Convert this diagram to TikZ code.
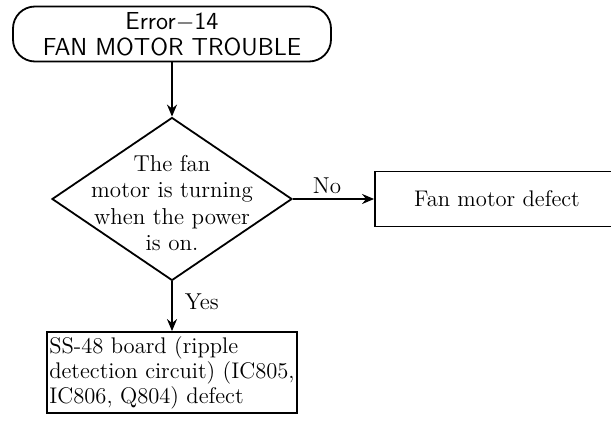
\documentclass[tikz,border=0pt]{standalone}
\usepackage{tikz}
\usetikzlibrary{arrows.meta, positioning, shapes.geometric}

\begin{document}
\begin{tikzpicture}[x=0.5pt, y=-0.5pt,
  term/.style={draw, line width=0.9pt, rounded corners=11pt, minimum width=159pt, minimum height=27.5pt, inner sep=0pt, align=center, font=\sffamily\fontsize{12.3}{12.8}\selectfont},
  test/.style={draw, diamond, line width=0.9pt, minimum width=120pt, minimum height=81.5pt, inner sep=0pt},
  txt/.style={align=center, inner sep=0pt, font=\fontsize{11.5}{13.3}\selectfont},
  res/.style={draw, line width=0.9pt, minimum width=122pt, minimum height=27.5pt, inner sep=2pt, font=\fontsize{11.3}{12.5}\selectfont},
  arr/.style={-{Stealth[length=6pt, width=5pt]}, line width=0.9pt},
  lbl/.style={font=\fontsize{11.5}{13}\selectfont, inner sep=2pt},
]
\useasboundingbox (0,0) rectangle (611,423);
\node[term] (start) at (172,34) {Error$-$14\\FAN MOTOR TROUBLE};
\node[test] (check) at (172,199) {};
\node[txt] (checktxt) at (172,203) {The fan\\motor is turning\\when the power\\is on.};
\node[res] (motor) at (497,199) {Fan motor defect};
\node[res, align=left, inner xsep=1pt, minimum height=40.5pt] (board) at (172,372.5) {SS-48 board (ripple\\detection circuit) (IC805,\\IC806, Q804) defect};
\draw[arr] (start) -- (check);
\draw[arr] (check.east) -- node[lbl, above, pos=0.42] {No} (motor.west);
\draw[arr] (check) -- node[lbl, right, pos=0.4, xshift=4pt] {Yes} (board);
\end{tikzpicture}
\end{document}
